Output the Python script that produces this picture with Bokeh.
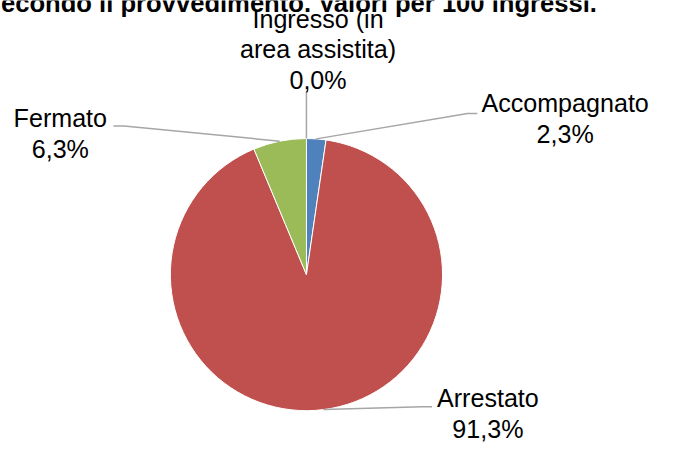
import math
import textwrap
from bokeh.plotting import figure
from bokeh.models import Range1d, ColumnDataSource
from bokeh.core.properties import value
from bokeh.embed import file_html
from bokeh.resources import INLINE

# ---- data ----
categories = ["Accompagnato", "Arrestato", "Fermato", "Ingresso (in area assistita)"]
values = [2.3, 91.3, 6.3, 0.0]
colors = ["#4F81BD", "#C0504D", "#9BBB59", "#8064A2"]
title_text = "secondo il provvedimento. Valori per 100 ingressi."

# ---- layout (reference pixel coordinates, scaled to fit) ----
W, H = 664, 443
S = 443 / 459.0
CX, CY, R = 317, 284, 141
FONT = "Liberation Sans"
FS = f"{26 * S:.1f}px"
FS_TITLE = f"{26.5 * S:.1f}px"
LINE_H = 32
TEXT_DY = 8.3  # compensation for renderer baseline offset
# label: center x, baseline of last line, elbow point, line end point
label_layout = {
    "Accompagnato": dict(x=585, yb=147, elbow=(484, 117), end=(494, 117)),
    "Arrestato": dict(x=505, yb=452, elbow=(437, 421), end=(447, 421)),
    "Fermato": dict(x=62, yb=162, elbow=(128, 130), end=(117, 130)),
    "Ingresso (in area assistita)": dict(x=329, yb=91, elbow=(317, 100), end=(317, 95)),
}


def Y(ry):
    return -ry


p = figure(width=W, height=H, output_backend="svg", toolbar_location=None,
           x_range=Range1d(0, W / S), y_range=Range1d(-H / S, 0),
           x_axis_type=None, y_axis_type=None, min_border=0,
           outline_line_color=None, background_fill_color="white",
           border_fill_color="white")
p.grid.visible = False

total = sum(values)
starts, ends, mids = [], [], []
cum = 0.0
for v in values:
    a0 = math.pi / 2 - 2 * math.pi * cum / total
    cum += v
    a1 = math.pi / 2 - 2 * math.pi * cum / total
    starts.append(a0)
    ends.append(a1)
    mids.append((a0 + a1) / 2)

idx = [i for i, v in enumerate(values) if v > 0]
src = ColumnDataSource(dict(
    start=[starts[i] for i in idx], end=[ends[i] for i in idx],
    color=[colors[i] for i in idx]))
p.wedge(x=CX, y=Y(CY), radius=R, start_angle="start", end_angle="end",
        direction="clock", fill_color="color", line_color="white",
        line_width=1, source=src)

# leader lines and labels
xs, ys = [], []
tx, ty, tt = [], [], []
for cat, v, m in zip(categories, values, mids):
    lay = label_layout[cat]
    px = CX + R * math.cos(m)
    py = Y(CY) + R * math.sin(m)
    ex, ey = lay["elbow"]
    fx, fy = lay["end"]
    xs.append([px, ex, fx])
    ys.append([py, Y(ey), Y(fy)])
    lines = textwrap.wrap(cat, 15) + [f"{v:.1f}".replace(".", ",") + "%"]
    n = len(lines)
    for k, ln in enumerate(lines):
        tx.append(lay["x"])
        ty.append(Y(lay["yb"] - (n - 1 - k) * LINE_H - TEXT_DY))
        tt.append(ln)

p.multi_line(xs=xs, ys=ys, line_color="#A6A6A6", line_width=1.5)
p.text(x=tx, y=ty, text=tt, text_font=value(FONT), text_font_size=FS,
       text_align="center", text_baseline="alphabetic", text_color="black")

p.text(x=[618], y=[Y(11 - TEXT_DY)], text=[title_text], text_font=value(FONT),
       text_font_size=FS_TITLE, text_font_style="bold", text_align="right",
       text_baseline="alphabetic", text_color="black")

open("out.html", "w").write(file_html(p, INLINE))
